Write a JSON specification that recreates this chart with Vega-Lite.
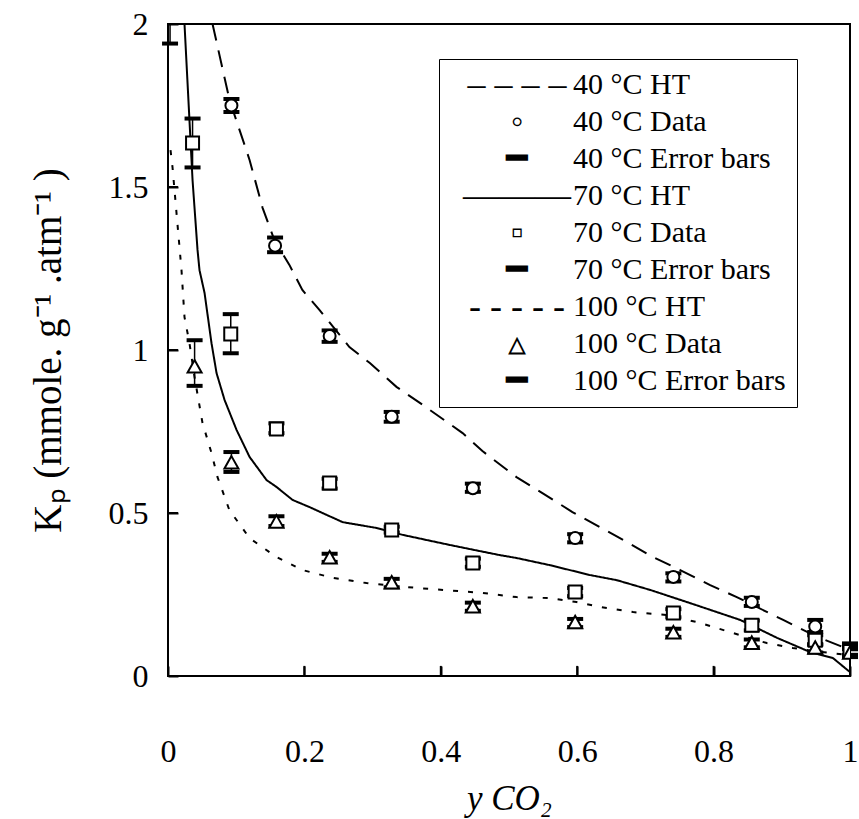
{
  "$schema": "https://vega.github.io/schema/vega-lite/v6.json",
  "autosize": {"type": "none"},
  "padding": {"left": 168, "top": 24, "right": 9, "bottom": 143},
  "width": 682,
  "height": 652,
  "background": "white",
  "config": {
    "font": "Liberation Serif",
    "view": {"stroke": "black", "strokeWidth": 2},
    "axis": {
      "grid": false,
      "labelFont": "Liberation Serif",
      "labelFontSize": 32,
      "labelColor": "black",
      "titleFont": "Liberation Serif",
      "titleFontWeight": "normal",
      "titleColor": "black"
    }
  },
  "datasets": {
    "xticks": [{"v": 0.2}, {"v": 0.4}, {"v": 0.6}, {"v": 0.8}],
    "yticks": [{"v": 0.5}, {"v": 1}, {"v": 1.5}],
    "curves": [
      {"series": "40", "x": 0.0653, "kp": 2.0},
      {"series": "40", "x": 0.0902, "kp": 1.767},
      {"series": "40", "x": 0.1196, "kp": 1.583},
      {"series": "40", "x": 0.1387, "kp": 1.436},
      {"series": "40", "x": 0.156, "kp": 1.337},
      {"series": "40", "x": 0.178, "kp": 1.261},
      {"series": "40", "x": 0.197, "kp": 1.184},
      {"series": "40", "x": 0.222, "kp": 1.123},
      {"series": "40", "x": 0.266, "kp": 1.009},
      {"series": "40", "x": 0.296, "kp": 0.96},
      {"series": "40", "x": 0.335, "kp": 0.887},
      {"series": "40", "x": 0.376, "kp": 0.828},
      {"series": "40", "x": 0.432, "kp": 0.745},
      {"series": "40", "x": 0.461, "kp": 0.69},
      {"series": "40", "x": 0.511, "kp": 0.61},
      {"series": "40", "x": 0.549, "kp": 0.561},
      {"series": "40", "x": 0.593, "kp": 0.503},
      {"series": "40", "x": 0.633, "kp": 0.457},
      {"series": "40", "x": 0.673, "kp": 0.411},
      {"series": "40", "x": 0.711, "kp": 0.365},
      {"series": "40", "x": 0.751, "kp": 0.325},
      {"series": "40", "x": 0.795, "kp": 0.279},
      {"series": "40", "x": 0.834, "kp": 0.242},
      {"series": "40", "x": 0.902, "kp": 0.172},
      {"series": "40", "x": 0.952, "kp": 0.12},
      {"series": "40", "x": 1.0, "kp": 0.08},
      {"series": "70", "x": 0.0242, "kp": 2.0},
      {"series": "70", "x": 0.036, "kp": 1.521},
      {"series": "70", "x": 0.0433, "kp": 1.307},
      {"series": "70", "x": 0.0462, "kp": 1.245},
      {"series": "70", "x": 0.0536, "kp": 1.175},
      {"series": "70", "x": 0.0638, "kp": 1.021},
      {"series": "70", "x": 0.0712, "kp": 0.929},
      {"series": "70", "x": 0.0829, "kp": 0.847},
      {"series": "70", "x": 0.1005, "kp": 0.755},
      {"series": "70", "x": 0.1196, "kp": 0.672},
      {"series": "70", "x": 0.1445, "kp": 0.601},
      {"series": "70", "x": 0.159, "kp": 0.58},
      {"series": "70", "x": 0.1827, "kp": 0.54},
      {"series": "70", "x": 0.2076, "kp": 0.518},
      {"series": "70", "x": 0.256, "kp": 0.472},
      {"series": "70", "x": 0.306, "kp": 0.454},
      {"series": "70", "x": 0.344, "kp": 0.433},
      {"series": "70", "x": 0.413, "kp": 0.402},
      {"series": "70", "x": 0.486, "kp": 0.371},
      {"series": "70", "x": 0.511, "kp": 0.362},
      {"series": "70", "x": 0.56, "kp": 0.34},
      {"series": "70", "x": 0.618, "kp": 0.31},
      {"series": "70", "x": 0.658, "kp": 0.294},
      {"series": "70", "x": 0.707, "kp": 0.264},
      {"series": "70", "x": 0.765, "kp": 0.224},
      {"series": "70", "x": 0.839, "kp": 0.172},
      {"series": "70", "x": 0.893, "kp": 0.117},
      {"series": "70", "x": 0.941, "kp": 0.074},
      {"series": "70", "x": 0.975, "kp": 0.055},
      {"series": "70", "x": 1.0, "kp": 0.012},
      {"series": "100", "x": 0.0037, "kp": 1.613},
      {"series": "100", "x": 0.0066, "kp": 1.561},
      {"series": "100", "x": 0.0198, "kp": 1.245},
      {"series": "100", "x": 0.0242, "kp": 1.101},
      {"series": "100", "x": 0.0315, "kp": 1.021},
      {"series": "100", "x": 0.0389, "kp": 0.917},
      {"series": "100", "x": 0.0506, "kp": 0.776},
      {"series": "100", "x": 0.0638, "kp": 0.684},
      {"series": "100", "x": 0.0726, "kp": 0.61},
      {"series": "100", "x": 0.09, "kp": 0.509},
      {"series": "100", "x": 0.1196, "kp": 0.423},
      {"series": "100", "x": 0.159, "kp": 0.365},
      {"series": "100", "x": 0.1974, "kp": 0.325},
      {"series": "100", "x": 0.2414, "kp": 0.301},
      {"series": "100", "x": 0.291, "kp": 0.285},
      {"series": "100", "x": 0.365, "kp": 0.27},
      {"series": "100", "x": 0.461, "kp": 0.255},
      {"series": "100", "x": 0.511, "kp": 0.242},
      {"series": "100", "x": 0.56, "kp": 0.239},
      {"series": "100", "x": 0.599, "kp": 0.227},
      {"series": "100", "x": 0.633, "kp": 0.212},
      {"series": "100", "x": 0.682, "kp": 0.196},
      {"series": "100", "x": 0.731, "kp": 0.187},
      {"series": "100", "x": 0.78, "kp": 0.163},
      {"series": "100", "x": 0.828, "kp": 0.132},
      {"series": "100", "x": 0.878, "kp": 0.101},
      {"series": "100", "x": 0.916, "kp": 0.086},
      {"series": "100", "x": 0.956, "kp": 0.074},
      {"series": "100", "x": 1.0, "kp": 0.064}
    ],
    "points": [
      {"label": "40 °C Data", "key": "40 Data", "x": 0.003, "kp": 2.05, "lo": 1.94, "hi": 2.16},
      {"label": "40 °C Data", "key": "40 Data", "x": 0.093, "kp": 1.75, "lo": 1.73, "hi": 1.77},
      {"label": "40 °C Data", "key": "40 Data", "x": 0.157, "kp": 1.32, "lo": 1.3, "hi": 1.345},
      {"label": "40 °C Data", "key": "40 Data", "x": 0.237, "kp": 1.043, "lo": 1.025, "hi": 1.06},
      {"label": "40 °C Data", "key": "40 Data", "x": 0.328, "kp": 0.795, "lo": 0.78, "hi": 0.81},
      {"label": "40 °C Data", "key": "40 Data", "x": 0.447, "kp": 0.576, "lo": 0.565, "hi": 0.59},
      {"label": "40 °C Data", "key": "40 Data", "x": 0.597, "kp": 0.423, "lo": 0.41, "hi": 0.435},
      {"label": "40 °C Data", "key": "40 Data", "x": 0.741, "kp": 0.304, "lo": 0.29, "hi": 0.315},
      {"label": "40 °C Data", "key": "40 Data", "x": 0.856, "kp": 0.227, "lo": 0.215, "hi": 0.24},
      {"label": "40 °C Data", "key": "40 Data", "x": 0.949, "kp": 0.152, "lo": 0.135, "hi": 0.172},
      {"label": "40 °C Data", "key": "40 Data", "x": 1.0, "kp": 0.082, "lo": 0.065, "hi": 0.1},
      {"label": "70 °C Data", "key": "70 Data", "x": 0.036, "kp": 1.635, "lo": 1.56, "hi": 1.71},
      {"label": "70 °C Data", "key": "70 Data", "x": 0.092, "kp": 1.049, "lo": 0.99, "hi": 1.11},
      {"label": "70 °C Data", "key": "70 Data", "x": 0.159, "kp": 0.758, "lo": 0.745, "hi": 0.775},
      {"label": "70 °C Data", "key": "70 Data", "x": 0.237, "kp": 0.592, "lo": 0.575, "hi": 0.605},
      {"label": "70 °C Data", "key": "70 Data", "x": 0.328, "kp": 0.448, "lo": 0.44, "hi": 0.458},
      {"label": "70 °C Data", "key": "70 Data", "x": 0.447, "kp": 0.347, "lo": 0.335, "hi": 0.36},
      {"label": "70 °C Data", "key": "70 Data", "x": 0.597, "kp": 0.258, "lo": 0.245, "hi": 0.27},
      {"label": "70 °C Data", "key": "70 Data", "x": 0.741, "kp": 0.193, "lo": 0.18, "hi": 0.205},
      {"label": "70 °C Data", "key": "70 Data", "x": 0.856, "kp": 0.156, "lo": 0.14, "hi": 0.17},
      {"label": "70 °C Data", "key": "70 Data", "x": 0.949, "kp": 0.11, "lo": 0.095, "hi": 0.125},
      {"label": "70 °C Data", "key": "70 Data", "x": 1.0, "kp": 0.075, "lo": 0.06, "hi": 0.09},
      {"label": "100 °C Data", "key": "100 Data", "x": 0.039, "kp": 0.948, "lo": 0.89, "hi": 1.03},
      {"label": "100 °C Data", "key": "100 Data", "x": 0.093, "kp": 0.653, "lo": 0.626, "hi": 0.687},
      {"label": "100 °C Data", "key": "100 Data", "x": 0.159, "kp": 0.472, "lo": 0.46, "hi": 0.49},
      {"label": "100 °C Data", "key": "100 Data", "x": 0.237, "kp": 0.362, "lo": 0.35, "hi": 0.375},
      {"label": "100 °C Data", "key": "100 Data", "x": 0.328, "kp": 0.285, "lo": 0.272, "hi": 0.298},
      {"label": "100 °C Data", "key": "100 Data", "x": 0.447, "kp": 0.212, "lo": 0.2, "hi": 0.225},
      {"label": "100 °C Data", "key": "100 Data", "x": 0.597, "kp": 0.163, "lo": 0.15, "hi": 0.175},
      {"label": "100 °C Data", "key": "100 Data", "x": 0.741, "kp": 0.132, "lo": 0.12, "hi": 0.145},
      {"label": "100 °C Data", "key": "100 Data", "x": 0.856, "kp": 0.1, "lo": 0.088, "hi": 0.112},
      {"label": "100 °C Data", "key": "100 Data", "x": 0.949, "kp": 0.085, "lo": 0.072, "hi": 0.098},
      {"label": "100 °C Data", "key": "100 Data", "x": 1.0, "kp": 0.07, "lo": 0.058, "hi": 0.082}
    ]
  },
  "layer": [
    {
      "data": {"name": "curves"},
      "mark": {"type": "line", "color": "black", "strokeWidth": 2, "clip": true},
      "encoding": {
        "x": {"field": "x", "type": "quantitative", "scale": {"domain": [0, 1], "nice": false},
          "axis": {"values": [0, 0.2, 0.4, 0.6, 0.8, 1], "format": "~g", "labelFlush": false, "zindex": 2, "domain": false, "offset": -10, "ticks": true, "tickSize": 10, "tickWidth": 2, "tickColor": "#000000", "labelPadding": 60, "title": "y CO\u2082", "titleFontSize": 35, "titleFontStyle": "italic", "titlePadding": 14}},
        "y": {"field": "kp", "type": "quantitative", "scale": {"domain": [0, 2], "nice": false},
          "axis": {"values": [0, 0.5, 1, 1.5, 2], "format": "~g", "zindex": 2, "domain": false, "offset": -10, "ticks": true, "tickSize": 10, "tickWidth": 2, "tickColor": "#000000", "labelPadding": 20, "title": "K\u209A (mmole. g\u207B\u00B9 .atm\u207B\u00B9 )", "titleFontSize": 39, "titlePadding": 40}},
        "detail": {"field": "series"},
        "strokeDash": {"field": "series", "type": "nominal", "scale": {"domain": ["40", "70", "100"], "range": [[17, 10], [1, 0], [5, 10]]}, "legend": null}
      }
    },
    {
      "data": {"name": "xticks"},
      "mark": {"type": "rule", "color": "black", "strokeWidth": 2},
      "encoding": {
        "x": {"field": "v", "type": "quantitative"},
        "y": {"datum": 0, "type": "quantitative"},
        "y2": {"datum": 0.031}
      }
    },
    {
      "data": {"name": "yticks"},
      "mark": {"type": "rule", "color": "black", "strokeWidth": 2},
      "encoding": {
        "y": {"field": "v", "type": "quantitative"},
        "x": {"datum": 0, "type": "quantitative"},
        "x2": {"datum": 0.0147}
      }
    },
    {
      "data": {"name": "points"},
      "mark": {"type": "rule", "color": "black", "strokeWidth": 1.5, "clip": true},
      "encoding": {
        "x": {"field": "x", "type": "quantitative"},
        "y": {"field": "lo", "type": "quantitative"},
        "y2": {"field": "hi"}
      }
    },
    {
      "data": {"name": "points"},
      "transform": [
        {"fold": ["lo", "hi"], "as": ["end", "v"]},
        {"filter": {"field": "v", "lte": 2}}
      ],
      "mark": {"type": "tick", "orient": "horizontal", "opacity": 1, "size": 16, "thickness": 4},
      "encoding": {
        "x": {"field": "x", "type": "quantitative"},
        "y": {"field": "v", "type": "quantitative"},
        "color": {
          "field": "label", "type": "nominal",
          "scale": {
            "domain": ["40 °C HT", "40 °C Data", "40 °C Error bars", "70 °C HT", "70 °C Data", "70 °C Error bars", "100 °C HT", "100 °C Data", "100 °C Error bars"],
            "range": ["black", "black", "black", "black", "black", "black", "black", "black", "black"]
          },
          "legend": {
            "title": null,
            "orient": "none",
            "legendX": 271,
            "legendY": 35,
            "zindex": 1,
            "padding": 11,
            "symbolSize": 0,
            "symbolOpacity": 0,
            "symbolOffset": 0,
            "labelOffset": 93,
            "labelLimit": 0,
            "labelFont": "Liberation Serif",
            "labelFontSize": 30,
            "labelColor": "black",
            "rowPadding": 7,
            "strokeColor": "black",
            "fillColor": "white"
          }
        }
      }
    },
    {
      "data": {"name": "points"},
      "mark": {"type": "point", "filled": false, "color": "black", "fill": "white", "stroke": "black", "strokeWidth": 2, "size": 400, "opacity": 1, "clip": true},
      "encoding": {
        "x": {"field": "x", "type": "quantitative"},
        "y": {"field": "kp", "type": "quantitative"},
        "shape": {
          "field": "key", "type": "nominal",
          "scale": {
            "domain": ["40 HT", "40 Data", "40 Err", "70 HT", "70 Data", "70 Err", "100 HT", "100 Data", "100 Err"],
            "range": [
              "circle",
              "M0.6,0A0.6,0.6,0,1,1,-0.6,0A0.6,0.6,0,1,1,0.6,0Z",
              "circle",
              "circle",
              "M-0.65,-0.65H0.65V0.65H-0.65Z",
              "circle",
              "circle",
              "M0,-0.7L0.7,0.55H-0.7Z",
              "circle"
            ]
          },
          "legend": {
            "title": null,
            "orient": "none",
            "legendX": 271,
            "legendY": 43,
            "zindex": 2,
            "padding": 0,
            "symbolSize": 0,
            "symbolOpacity": 0,
            "symbolOffset": 0,
            "labelOffset": 42,
            "labelAlign": "center",
            "labelLimit": 0,
            "labelFont": "Liberation Serif",
            "labelFontSize": 36,
            "labelColor": "black",
            "rowPadding": 1,
            "labelExpr": "datum.value == '40 HT' ? '\u2013 \u2013 \u2013 \u2013' : datum.value == '70 HT' ? '\u2014\u2014\u2014' : datum.value == '100 HT' ? '- - - - -' : datum.value == '40 Data' ? '\u25E6' : datum.value == '70 Data' ? '\u25AB' : datum.value == '100 Data' ? '\u25B5' : '\u2501'"
          }
        }
      }
    }
  ]
}
